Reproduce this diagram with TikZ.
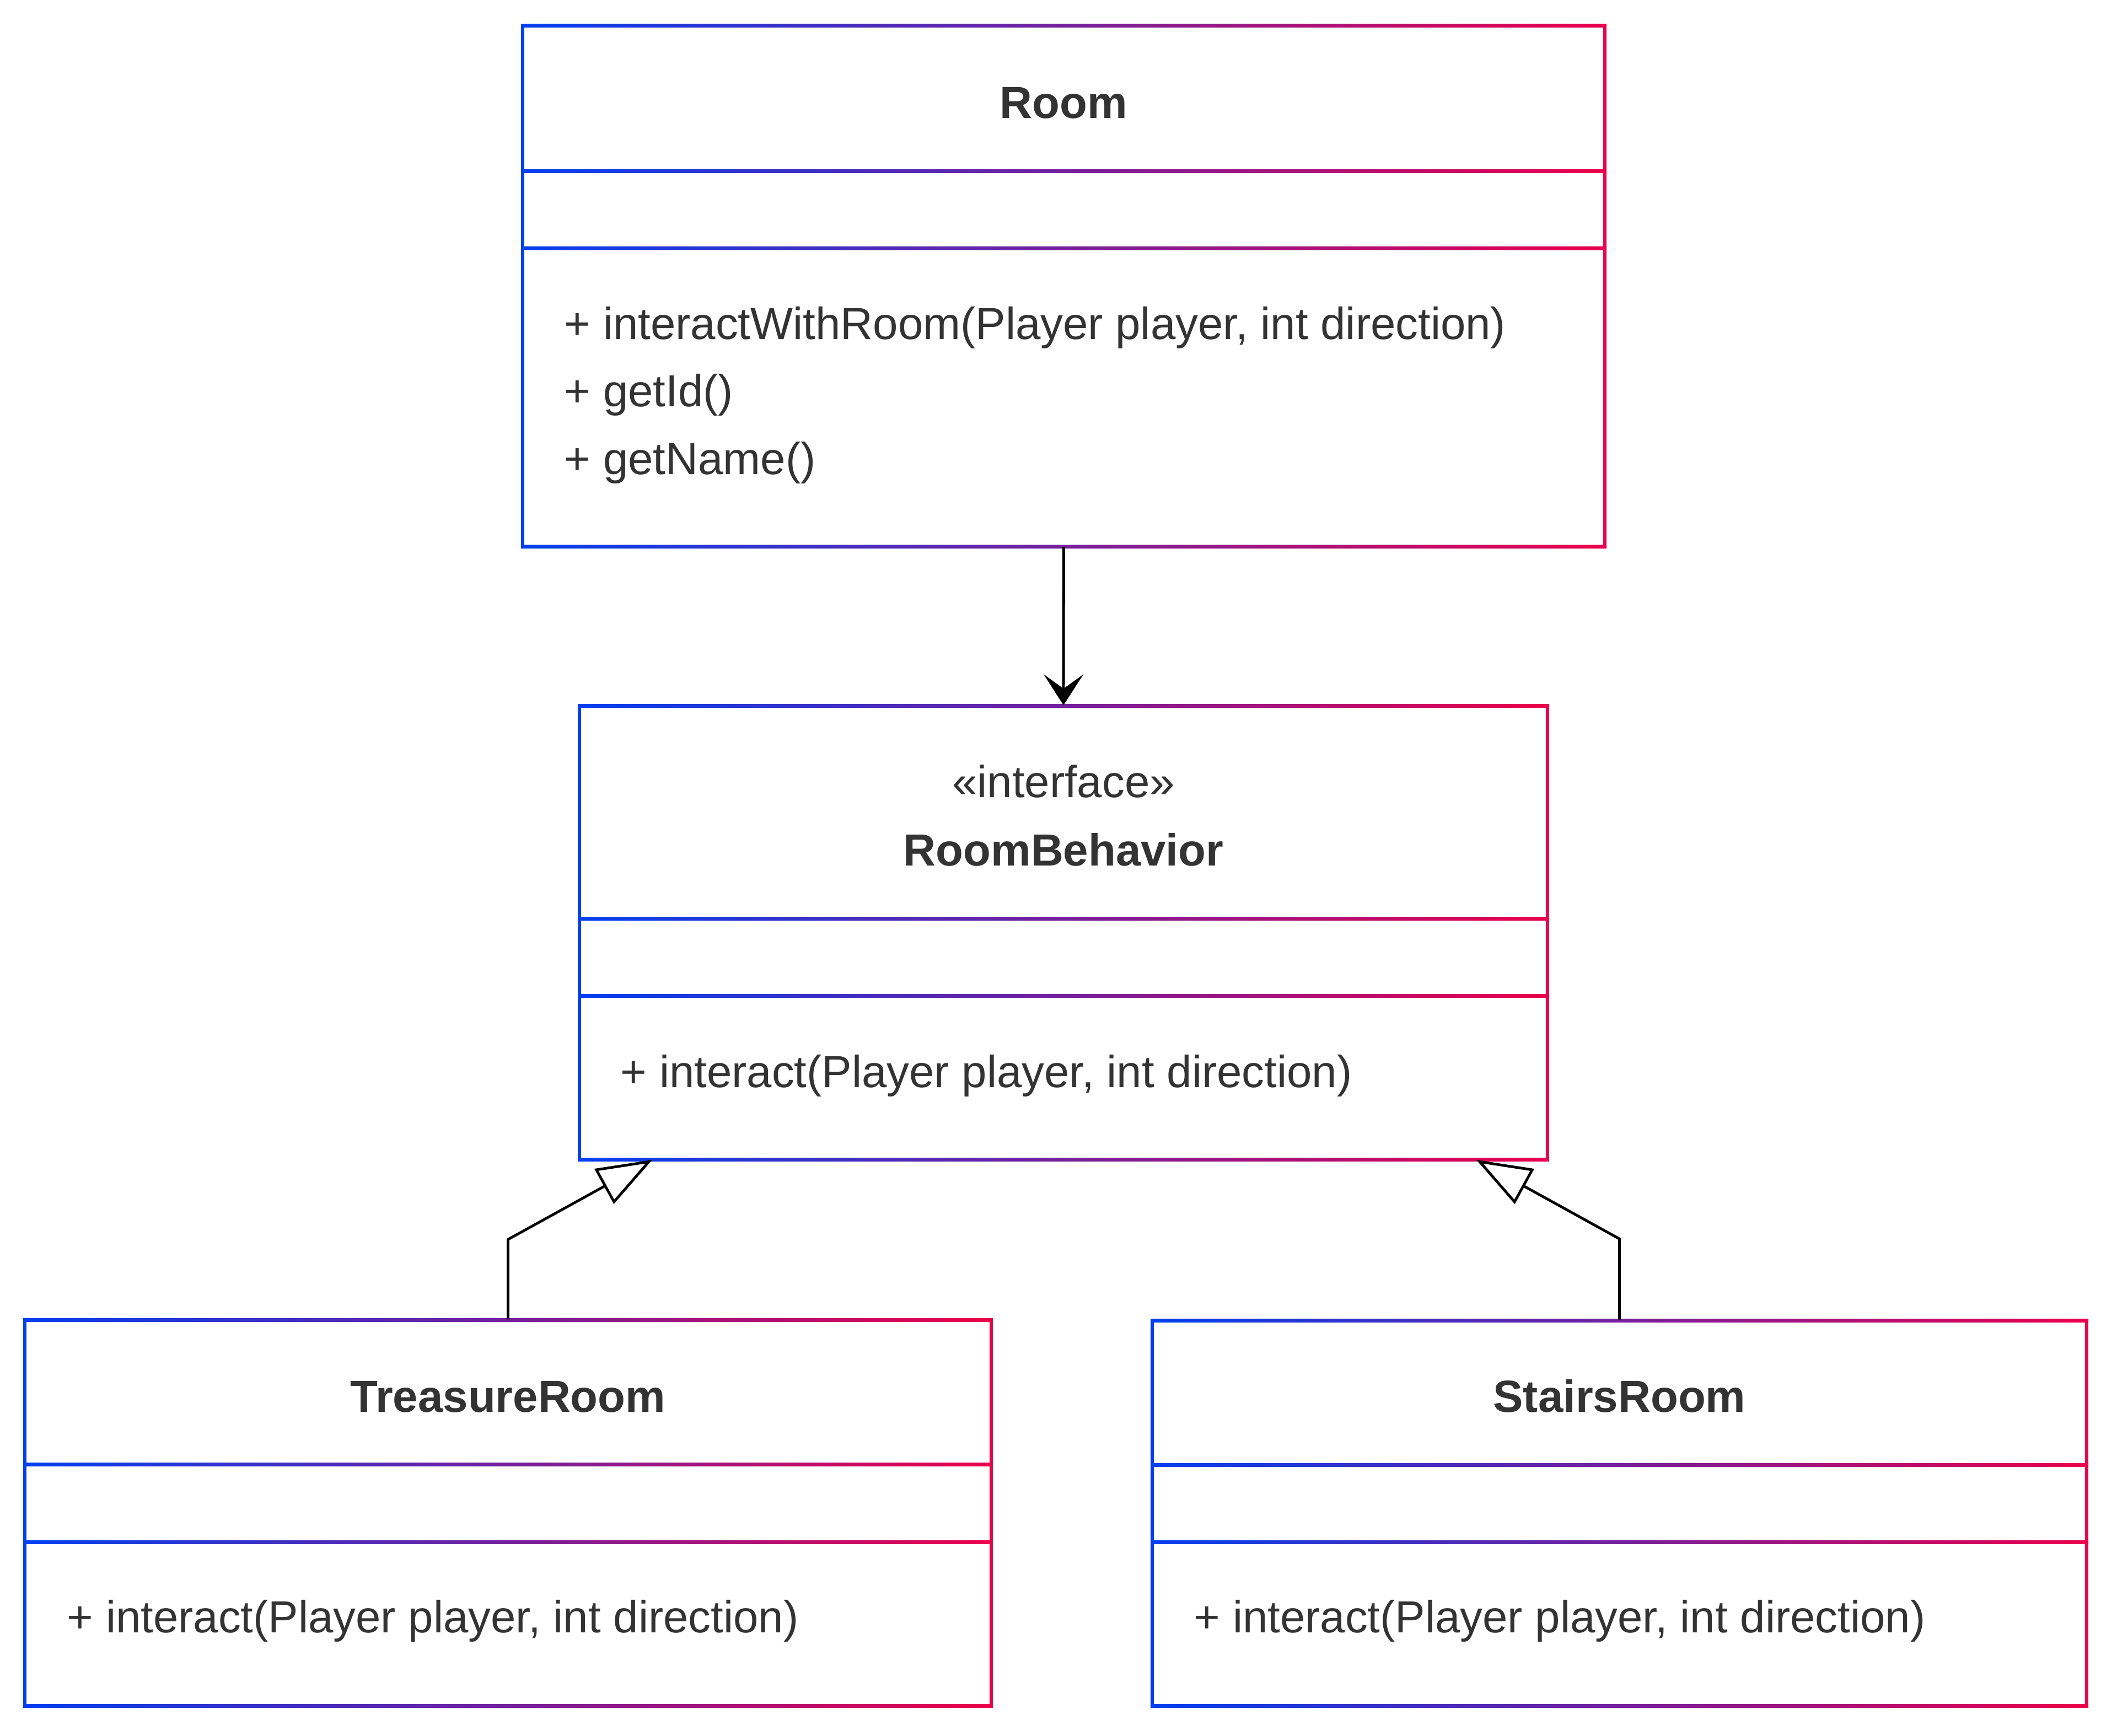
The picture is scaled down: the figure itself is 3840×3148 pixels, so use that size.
\documentclass[tikz,border=0pt]{standalone}
\usepackage{fontspec}
\setmainfont{Liberation Sans}
\usetikzlibrary{arrows.meta,fit,calc}
\definecolor{cL}{RGB}{0,64,240}
\definecolor{cR}{RGB}{235,0,75}
\definecolor{txt}{RGB}{51,51,51}
\newcommand\gbox[7]{%
  \coordinate (#1-a) at (#2,#3);
  \coordinate (#1-b) at (#4,#5);
  \node[fit=(#1-a)(#1-b), inner sep=0pt, draw=none] (#1) {};
  \shade[left color=cL,right color=cR] (#2-3,#3-3) rectangle (#4+3,#3+3);
  \shade[left color=cL,right color=cR] (#2-3,#5-3) rectangle (#4+3,#5+3);
  \shade[left color=cL,right color=cR] (#2-3,#6-3) rectangle (#4+3,#6+3);
  \shade[left color=cL,right color=cR] (#2-3,#7-3) rectangle (#4+3,#7+3);
  \fill[cL] (#2-3,#3-3) rectangle (#2+3,#5+3);
  \fill[cR] (#4-3,#3-3) rectangle (#4+3,#5+3);
}
\tikzset{
  mtext/.style={text=txt, font=\fontsize{20.4}{24}\selectfont, inner sep=0pt},
  ttl/.style={text=txt, font=\fontsize{20.4}{24}\selectfont\bfseries, inner sep=0pt, anchor=base},
  conn/.style={draw=black, line width=1.2pt},
  assoc/.style={conn, -{Stealth[length=14pt, width=18pt, inset=6.5pt]}},
  inherit/.style={conn, line join=miter, -{Triangle[length=25pt, width=18pt, fill=white, line join=miter]}}
}
\begin{document}
\begin{tikzpicture}[x=0.25pt, y=-0.25pt]
\useasboundingbox (0,0) rectangle (3840,3148);
\fill[white] (0,0) rectangle (3840,3148);

% Room
\gbox{room}{948}{46}{2911}{991}{310}{450}
\node[ttl] (roomT) at (1929.5,214) {Room};
\node[mtext, anchor=base west] (roomM1) at (1023,615) {+ interactWithRoom(Player player, int direction)};
\node[mtext, anchor=base west] (roomM2) at (1023,737) {+ getId()};
\node[mtext, anchor=base west] (roomM3) at (1023,860) {+ getName()};

% RoomBehavior
\gbox{rb}{1051}{1280}{2807}{2103}{1666}{1806}
\node[mtext, anchor=base] (rbS) at (1929,1446) {«interface»};
\node[ttl] (rbT) at (1929,1570) {RoomBehavior};
\node[mtext, anchor=base west] (rbM1) at (1125,1972) {+ interact(Player player, int direction)};

% TreasureRoom
\gbox{tr}{45}{2394}{1798}{3094}{2656}{2797}
\node[ttl] (trT) at (921.5,2561) {TreasureRoom};
\node[mtext, anchor=base west] (trM1) at (121,2961) {+ interact(Player player, int direction)};

% StairsRoom
\gbox{sr}{2090}{2395}{3785}{3094}{2657}{2797}
\node[ttl] (srT) at (2937.5,2561) {StairsRoom};
\node[mtext, anchor=base west] (srM1) at (2165,2961) {+ interact(Player player, int direction)};

% connectors
\draw[assoc] (room.south) -- (rb.north);
\coordinate (tipL) at ($(rb.south west)+(133,0)$);
\coordinate (tipR) at ($(rb.south east)+(-130,0)$);
\draw[inherit] (tr.north) -- ++(0,-145) -- (tipL);
\draw[inherit] (sr.north) -- ++(0,-147) -- (tipR);
\end{tikzpicture}
\end{document}
